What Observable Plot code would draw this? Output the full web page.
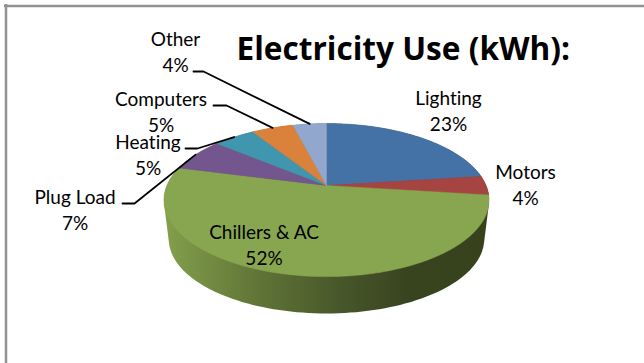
<!DOCTYPE html>
<html>
<head>
<meta charset="utf-8">
<style>
  html, body { margin: 0; padding: 0; background: #fff; }
  svg { display: block; }
  svg text { font-variant-ligatures: none; }
</style>
<script src="https://cdn.jsdelivr.net/npm/d3@7"></script>
<script src="https://cdn.jsdelivr.net/npm/@observablehq/plot@0.6"></script>
</head>
<body>
<script>
// Electricity use by end use, percent of kWh
const categories = ["Lighting", "Motors", "Chillers & AC", "Plug Load", "Heating", "Computers", "Other"];
const shares = [23, 4, 52, 7, 5, 5, 4];

const topColors = ["#4471a6", "#a64442", "#88a64f", "#73568e", "#4096ae", "#da813c", "#92a7ce"];

// Label centres, in page pixels, as [x, first line y]
const labelAnchors = [
  [448, 98], [525, 172], [263.5, 232], [74.5, 197], [147.5, 142], [160.5, 99], [175, 39]
];
// Where each leader line leaves its label; slices without one stay null
const leaderStarts = [null, null, null, [122, 203, 134], [185, 148, 197], [213, 105, 226], [193, 71, 203]];

// Tilted-disc projection
const centre = {x: 326, y: 185};
const radius = {x: 159.6, y: 73.8};
const tilt = 0.19;
const depth = {dy: 39.6, scale: 0.97};

function project(angle, dy = 0, scale = 1) {
  const u = Math.sin(angle), v = -Math.cos(angle);
  const s = scale / (1 - tilt * v);
  return {x: centre.x + radius.x * u * s, y: centre.y + dy + radius.y * v * s};
}

const turn = (pct) => (pct / 100) * 2 * Math.PI;
const total = d3.sum(shares);
const ends = d3.cumsum(shares).map((d) => d * 100 / total);
const starts = [0, ...ends.slice(0, -1)];

// One closed outline per slice, walking the rim in small steps
const sliceOutlines = categories.flatMap((category, i) => {
  const n = Math.ceil(shares[i] * 5);
  const rim = d3.range(n + 1).map((k) => project(turn(starts[i] + (ends[i] - starts[i]) * k / n)));
  return [{...centre}, ...rim, {...centre}].map((p) => ({...p, category}));
});

// Side wall: the hull of the top rim and the lower rim gives straight tangent edges
const rimPct = d3.range(0, 100, 0.5);
const wallOutline = d3.polygonHull([
  ...rimPct.map((p) => project(turn(p))),
  ...rimPct.map((p) => project(turn(p), depth.dy, depth.scale))
].map((p) => [p.x, p.y])).map(([x, y]) => ({x, y}));

const leaders = categories.flatMap((category, i) => {
  const from = leaderStarts[i];
  if (!from) return [];
  const end = project(turn(starts[i] + (ends[i] - starts[i]) / 2));
  return [
    {x: from[0], y: from[1], category},
    {x: from[2], y: from[1], category},
    {x: end.x, y: end.y, category}
  ];
});

const labels = categories.flatMap((category, i) => [
  {x: labelAnchors[i][0], y: labelAnchors[i][1], text: category},
  {x: labelAnchors[i][0], y: labelAnchors[i][1] + 26, text: `${shares[i]}%`}
]);

// Shading for the side wall
function wallGradient() {
  const defs = d3.create("svg:defs");
  const g = defs.append("linearGradient").attr("id", "wall-shade");
  for (const [offset, color] of [[0, "#83a04c"], [0.3, "#5f7336"], [0.55, "#47562a"], [0.75, "#38441f"], [1, "#37421c"]]) {
    g.append("stop").attr("offset", offset).attr("stop-color", color);
  }
  return defs.node();
}

const chart = Plot.plot({
  width: 644,
  height: 363,
  margin: 0,
  x: {domain: [0, 644], range: [0, 644], axis: null},
  y: {domain: [0, 363], range: [0, 363], axis: null},
  style: {background: "#fff", fontFamily: "Lato, 'Open Sans', sans-serif"},
  marks: [
    wallGradient,
    Plot.line(wallOutline, {x: "x", y: "y", fill: "url(#wall-shade)", stroke: "none", curve: "linear-closed"}),
    ...categories.map((category, i) =>
      Plot.line(sliceOutlines.filter((d) => d.category === category), {
        x: "x", y: "y", fill: topColors[i], stroke: topColors[i], strokeWidth: 0.5, curve: "linear-closed"
      })
    ),
    Plot.line(leaders, {x: "x", y: "y", z: "category", stroke: "#000", strokeWidth: 1.8}),
    Plot.text(labels, {x: "x", y: "y", text: "text", fontSize: 19, fill: "#000", lineAnchor: "middle"}),
    Plot.text([{x: 236, y: 49, text: "Electricity Use (kWh):"}], {
      x: "x", y: "y", text: "text", textAnchor: "start", fontFamily: "'Open Sans'", fontSize: 31.6, fontWeight: "bold", fill: "#000", lineAnchor: "middle"
    }),
    // The chart border shows along the top and left only
    Plot.ruleY([5.5], {x1: 4, x2: 644, stroke: "#929292", strokeWidth: 2.5}),
    Plot.ruleX([5.5], {y1: 4, y2: 363, stroke: "#929292", strokeWidth: 2.5})
  ]
});

document.body.append(chart);
</script>
</body>
</html>
